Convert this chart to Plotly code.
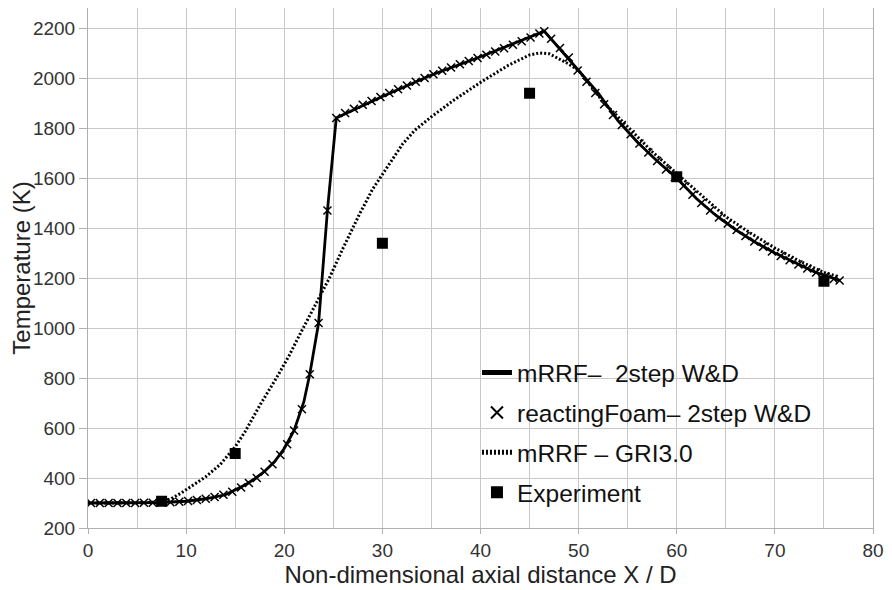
import plotly.graph_objects as go

# mRRF - 2step W&D (solid line)
x_2step = [0, 5, 7.5, 10, 12, 14, 15, 16, 17, 18, 19, 20, 21, 22, 22.6, 23.5, 24.4, 25.3,
           30, 35, 40, 45, 46.5,
           48, 50, 52, 54, 56, 58, 60, 62, 64, 66, 68, 70, 72, 74, 76.6]
t_2step = [300, 300, 302, 307, 317, 333, 351, 372, 397, 427, 465, 518, 590, 705, 815, 1020, 1470, 1840,
           1926, 2012, 2085, 2164, 2187,
           2120, 2030, 1940, 1830, 1743, 1668, 1600, 1518, 1450, 1393, 1343, 1300, 1262, 1225, 1190]

# reactingFoam - 2step W&D (x markers)
x_foam = [0.3, 1.2, 2.1, 3.0, 3.9, 4.8, 5.7, 6.6, 7.5, 8.4, 9.3, 10.2, 11.1, 12.0, 12.9, 13.8,
          14.7, 15.6, 16.4, 17.2, 18.0, 18.8, 19.6, 20.3, 21.0, 21.8, 22.6, 23.5, 24.4, 25.3,
          26.2, 27.1, 28.0, 28.9, 29.8, 30.7, 31.6, 32.5, 33.4, 34.3, 35.2, 36.1, 37.0, 37.9,
          38.8, 39.7, 40.6, 41.5, 42.4, 43.3, 44.2, 45.1, 46.0, 46.5,
          47.2, 48.1, 49.0, 49.9, 50.8, 51.7, 52.6, 53.5, 54.4, 55.3, 56.2, 57.1, 58.0, 58.9,
          59.8, 60.7, 61.6, 62.5, 63.4, 64.3, 65.2, 66.1, 67.0, 67.9, 68.8, 69.7, 70.6, 71.5,
          72.4, 73.3, 74.2, 75.1, 76.0, 76.6]
t_foam = [300, 300, 300, 300, 300, 300, 301, 301, 302, 303, 305, 308, 312, 317, 324, 333,
          345, 362, 380, 400, 425, 455, 492, 535, 590, 675, 815, 1020, 1470, 1840,
          1860, 1877, 1893, 1908, 1924, 1940, 1955, 1970, 1985, 2000, 2015, 2029, 2042, 2055,
          2068, 2080, 2093, 2106, 2119, 2133, 2147, 2162, 2178, 2187,
          2157, 2120, 2082, 2030, 1985, 1940, 1895, 1852, 1812, 1775, 1738, 1702, 1668, 1634,
          1603, 1568, 1533, 1500, 1470, 1442, 1418, 1392, 1368, 1346, 1325, 1306, 1288, 1271,
          1254, 1238, 1222, 1207, 1196, 1190]

# mRRF - GRI3.0 (dotted line)
x_gri = [0, 5, 7.5, 8.5, 9.5, 10.5, 12, 13.5, 15, 16, 17.5, 19.2, 20.5, 21.6, 23, 24.6, 26, 27.6,
         29, 30, 31, 32.1, 33.3, 35.1, 37.3, 40.1, 42.8, 45, 46, 47, 48.9, 50, 52.5, 55, 57.5,
         60, 62.5, 65, 67.5, 70, 72.5, 75, 76.5]
t_gri = [300, 300, 305, 318, 340, 365, 405, 455, 525, 585, 690, 800, 890, 975, 1080, 1200, 1320, 1450,
         1555, 1615, 1671, 1738, 1791, 1848, 1912, 1985, 2050, 2092, 2100, 2097, 2058, 2030, 1905, 1807, 1705,
         1618, 1530, 1445, 1380, 1320, 1268, 1222, 1205]

# Experiment
x_exp = [7.5, 15, 30, 45, 60, 75]
t_exp = [307, 498, 1339, 1939, 1605, 1187]

font_family = "Liberation Sans, Arial, sans-serif"
grid = "#c8c8c8"
frame = "#b0b0b0"

fig = go.Figure()
fig.add_trace(go.Scatter(x=x_2step, y=t_2step, mode="lines", name="mRRF–\u00a0 2step W&D",
                         legendgroup="a", line=dict(color="black", width=2.8)))
fig.add_trace(go.Scatter(x=x_foam, y=t_foam, mode="markers", name="reactingFoam– 2step W&D",
                         legendgroup="b",
                         marker=dict(symbol="x-thin", size=8, color="black",
                                     line=dict(width=1.5, color="black"))))
fig.add_trace(go.Scatter(x=x_gri, y=t_gri, mode="lines", name="mRRF – GRI3.0",
                         legendgroup="c", line=dict(color="black", width=3, dash="2px,2px")))
fig.add_trace(go.Scatter(x=x_exp, y=t_exp, mode="markers", name="Experiment",
                         legendgroup="d", marker=dict(symbol="square", size=11, color="black")))

# white box behind the legend
fig.add_shape(type="rect", xref="paper", yref="paper", x0=0.408, x1=0.968, y0=0.0115, y1=0.352,
              fillcolor="white", line=dict(width=0), layer="between")

# page body has an 8px margin, so the figure is made 8px smaller
fig.update_layout(
    width=884, height=582,
    margin=dict(l=80, r=19, t=0, b=62),
    paper_bgcolor="white", plot_bgcolor="white",
    font=dict(family=font_family, size=19, color="#333"),
    showlegend=True,
    legend=dict(x=0.4955, y=0.342, xanchor="left", yanchor="top",
                bgcolor="rgba(0,0,0,0)", font=dict(size=24.5, color="#111"),
                traceorder="grouped", tracegroupgap=5, itemsizing="constant"),
    xaxis=dict(range=[0, 80], tick0=0, dtick=10, showgrid=True, gridcolor=grid, gridwidth=1,
               minor=dict(dtick=5, showgrid=True, gridcolor=grid, gridwidth=1),
               showline=True, mirror=True, linecolor=frame, linewidth=1,
               ticks="outside", ticklen=5, tickcolor=frame, zeroline=False, automargin=False,
               title=dict(text="Non-dimensional axial distance X / D",
                          font=dict(size=24, color="#222"), standoff=6)),
    yaxis=dict(range=[200, 2280], tick0=0, dtick=200, showgrid=True, gridcolor=grid, gridwidth=1,
               showline=True, mirror=True, linecolor=frame, linewidth=1,
               ticks="outside", ticklen=8, tickcolor=frame, zeroline=False, automargin=False,
               title=dict(text="Temperature (K)", font=dict(size=24, color="#222"), standoff=2)),
)

fig.write_html("out.html")
